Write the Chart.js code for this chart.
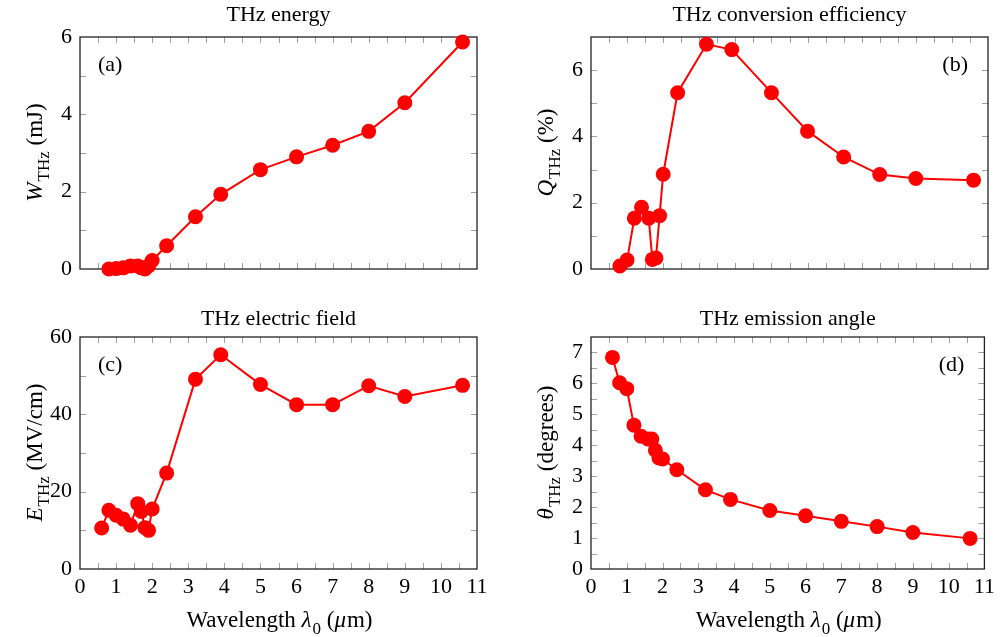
<!DOCTYPE html>
<html>
<head>
<meta charset="utf-8">
<script src="https://cdn.jsdelivr.net/npm/chart.js@4"></script>
<style>
  html, body { margin: 0; padding: 0; background: #fff; }
  #wrap { position: relative; width: 1000px; height: 637px; }
  canvas { position: absolute; }
</style>
</head>
<body>
<div id="wrap">
  <canvas id="energy" width="500" height="300" style="left:0;top:0"></canvas>
  <canvas id="efficiency" width="500" height="300" style="left:500px;top:0"></canvas>
  <canvas id="field" width="500" height="337" style="left:0;top:300px"></canvas>
  <canvas id="angle" width="500" height="337" style="left:500px;top:300px"></canvas>
</div>
<script>
// wavelengths (um) for the energy / efficiency panels
const wavelengthTop = [0.8, 1.0, 1.2, 1.4, 1.6, 1.7, 1.8, 1.9, 2.0, 2.4, 3.2, 3.9, 5, 6, 7, 8, 9, 10.6];
// wavelengths (um) for the field / angle panels
const wavelengthBottom = [0.6, 0.8, 1.0, 1.2, 1.4, 1.6, 1.7, 1.8, 1.9, 2.0, 2.4, 3.2, 3.9, 5, 6, 7, 8, 9, 10.6];

const energy = [0.0, 0.01, 0.03, 0.08, 0.08, 0.03, 0.0, 0.08, 0.22, 0.6, 1.35, 1.93, 2.57, 2.9, 3.2, 3.56, 4.3, 5.87];
const efficiency = [0.09, 0.27, 1.53, 1.86, 1.53, 0.29, 0.33, 1.61, 2.86, 5.32, 6.78, 6.62, 5.32, 4.16, 3.38, 2.85, 2.73, 2.68];
const field = [10.6, 15.2, 13.9, 12.9, 11.3, 16.9, 14.9, 10.7, 10.0, 15.5, 24.8, 49.1, 55.4, 47.7, 42.5, 42.5, 47.4, 44.6, 47.5];
const angle = [6.84, 6.02, 5.83, 4.65, 4.29, 4.2, 4.2, 3.84, 3.59, 3.56, 3.21, 2.56, 2.25, 1.89, 1.72, 1.54, 1.37, 1.18, 0.99];

const xTitle = [{ t: 'Wavelength ' }, { t: 'λ', it: true }, { t: '0', sub: true }, { t: ' (' }, { t: 'μ', it: true }, { t: 'm)' }];

const RED = '#ff0000';
const FONT = '"Liberation Serif", "Times New Roman", serif';

function fontFor(p, size) {
  const s = p.sub ? Math.round(size * 0.74) : size;
  return (p.it ? 'italic ' : '') + s + 'px ' + FONT;
}

// draws mixed italic / subscript text centred on (cx, baseline)
function drawRich(ctx, parts, cx, base, size, rotate) {
  ctx.save();
  ctx.translate(cx, base);
  if (rotate) ctx.rotate(-Math.PI / 2);
  let w = 0;
  for (const p of parts) { ctx.font = fontFor(p, size); w += ctx.measureText(p.t).width; }
  let x = -w / 2;
  ctx.textBaseline = 'alphabetic';
  ctx.textAlign = 'left';
  ctx.fillStyle = '#000';
  for (const p of parts) {
    ctx.font = fontFor(p, size);
    ctx.fillText(p.t, x, p.sub ? size * 0.3 : 0);
    x += ctx.measureText(p.t).width + (p.it ? 1 : 0);
  }
  ctx.restore();
}

const insideTicks = {
  id: 'insideTicks',
  beforeDatasetsDraw(chart, args, opts) {
    const { ctx, chartArea: a } = chart;
    const x = chart.scales.x, y = chart.scales.y;
    ctx.save();
    ctx.strokeStyle = '#a0a0a0';
    ctx.lineWidth = 1;
    ctx.beginPath();
    for (let i = 1; i * opts.xStep < x.max - 1e-9; i++) {
      const px = Math.round(x.getPixelForValue(i * opts.xStep)) + 0.5;
      ctx.moveTo(px, a.bottom); ctx.lineTo(px, a.bottom - 6);
      ctx.moveTo(px, a.top); ctx.lineTo(px, a.top + 6);
    }
    for (let i = 1; i * opts.yStep < y.max - 1e-9; i++) {
      const py = Math.round(y.getPixelForValue(i * opts.yStep)) + 0.5;
      ctx.moveTo(a.left, py); ctx.lineTo(a.left + 6, py);
      ctx.moveTo(a.right, py); ctx.lineTo(a.right - 6, py);
    }
    ctx.stroke();
    ctx.strokeStyle = '#222';
    ctx.lineWidth = 1.3;
    ctx.strokeRect(a.left, a.top, a.right - a.left, a.bottom - a.top);
    ctx.restore();
  }
};

const panelText = {
  id: 'panelText',
  afterDraw(chart, args, opts) {
    const { ctx, chartArea: a } = chart;
    const cx = (a.left + a.right) / 2;
    drawRich(ctx, [{ t: opts.title }], cx, a.top - opts.titleGap, 22, false);
    drawRich(ctx, opts.yTitle, a.left - 38, (a.top + a.bottom) / 2, 23, true);
    if (opts.xTitle) drawRich(ctx, opts.xTitle, cx, a.bottom + 58, 23, false);
    ctx.save();
    ctx.font = '22px ' + FONT;
    ctx.fillStyle = '#000';
    ctx.textBaseline = 'alphabetic';
    if (opts.tagRight) {
      ctx.textAlign = 'right';
      ctx.fillText(opts.tag, a.right - 20, a.top + 34);
    } else {
      ctx.textAlign = 'left';
      ctx.fillText(opts.tag, a.left + 18, a.top + 34);
    }
    ctx.restore();
  }
};

function makePanel(id, xs, ys, cfg) {
  const pts = xs.map((x, i) => ({ x: x, y: ys[i] }));
  const tickFont = { family: FONT, size: 22 };
  return new Chart(document.getElementById(id), {
    type: 'line',
    data: {
      datasets: [{
        data: pts,
        borderColor: RED,
        backgroundColor: RED,
        pointBackgroundColor: RED,
        pointBorderColor: RED,
        borderWidth: 2,
        pointRadius: 6.5,
        pointHoverRadius: 6.5,
        tension: 0,
        clip: false
      }]
    },
    options: {
      responsive: false,
      animation: false,
      events: [],
      layout: { padding: { top: 37, right: cfg.rightPad, left: 0, bottom: 0 } },
      plugins: {
        legend: { display: false },
        tooltip: { enabled: false },
        insideTicks: { xStep: 0.5, yStep: cfg.yMinor },
        panelText: {
          title: cfg.title, titleGap: cfg.showX ? 12 : 16, yTitle: cfg.yTitle,
          tag: cfg.tag, tagRight: cfg.tagRight, xTitle: cfg.showX ? xTitle : null
        }
      },
      scales: {
        x: {
          type: 'linear', min: 0, max: 11,
          afterFit: s => { s.height = cfg.showX ? 68 : 31; },
          grid: { display: false, drawTicks: false },
          border: { display: false },
          ticks: { display: cfg.showX, stepSize: 1, padding: 5, autoSkip: false, maxRotation: 0, color: '#000', font: tickFont }
        },
        y: {
          type: 'linear', min: 0, max: cfg.yMax,
          afterFit: s => { s.width = cfg.axisW; },
          grid: { display: false, drawTicks: false },
          border: { display: false },
          ticks: { stepSize: cfg.yStep, includeBounds: false, padding: 8, color: '#000', font: tickFont }
        }
      }
    },
    plugins: [insideTicks, panelText]
  });
}

makePanel('energy', wavelengthTop, energy, {
  title: 'THz energy', tag: '(a)', tagRight: false, showX: false,
  yTitle: [{ t: 'W', it: true }, { t: 'THz', sub: true }, { t: ' (mJ)' }],
  yMax: 6, yStep: 2, yMinor: 1, axisW: 80, rightPad: 23
});
makePanel('efficiency', wavelengthTop, efficiency, {
  title: 'THz conversion efficiency', tag: '(b)', tagRight: true, showX: false,
  yTitle: [{ t: 'Q', it: true }, { t: 'THz', sub: true }, { t: ' (%)' }],
  yMax: 7, yStep: 2, yMinor: 1, axisW: 91, rightPad: 12
});
makePanel('field', wavelengthBottom, field, {
  title: 'THz electric field', tag: '(c)', tagRight: false, showX: true,
  yTitle: [{ t: 'E', it: true }, { t: 'THz', sub: true }, { t: ' (MV/cm)' }],
  yMax: 60, yStep: 20, yMinor: 10, axisW: 80, rightPad: 23
});
makePanel('angle', wavelengthBottom, angle, {
  title: 'THz emission angle', tag: '(d)', tagRight: true, showX: true,
  yTitle: [{ t: 'θ', it: true }, { t: 'THz', sub: true }, { t: ' (degrees)' }],
  yMax: 7.5, yStep: 1, yMinor: 0.5, axisW: 91, rightPad: 12
});
</script>
</body>
</html>
